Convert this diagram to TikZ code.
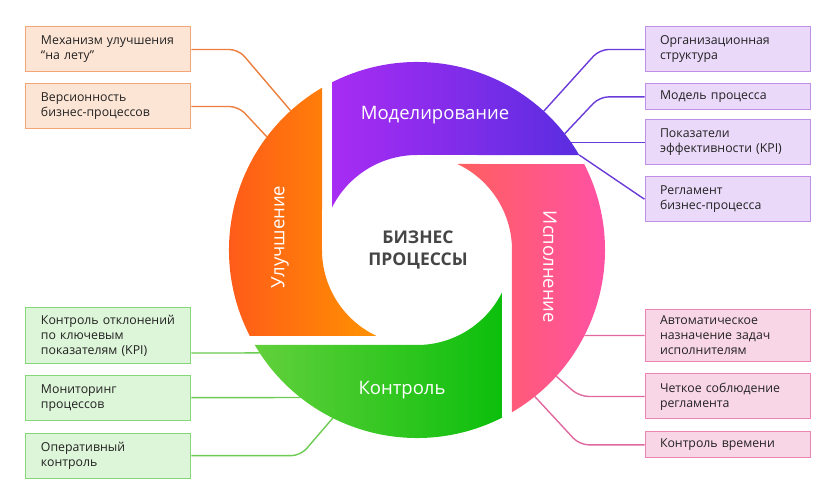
\documentclass[tikz,border=0pt]{standalone}
\usepackage{fontspec}
\setmainfont{Open Sans}
\usepackage{xcolor}
\usetikzlibrary{positioning}

\definecolor{txt}{HTML}{222222}
\definecolor{cen}{HTML}{454545}
\definecolor{orfill}{HTML}{FDE5D5}
\definecolor{ordraw}{HTML}{F2A675}
\definecolor{orline}{HTML}{EC7E3E}
\definecolor{pufill}{HTML}{EBD9FA}
\definecolor{pudraw}{HTML}{C08FE8}
\definecolor{puline}{HTML}{6A3BD9}
\definecolor{grfill}{HTML}{DDF5D8}
\definecolor{grdraw}{HTML}{86D67A}
\definecolor{grline}{HTML}{6CCB52}
\definecolor{pkfill}{HTML}{F9D6E6}
\definecolor{pkdraw}{HTML}{EC85B2}
\definecolor{pkline}{HTML}{E0689F}
\definecolor{purL}{HTML}{A82CF3}
\definecolor{purR}{HTML}{5A2DE0}
\definecolor{pinkL}{HTML}{FF5F5F}
\definecolor{pinkR}{HTML}{FF50B0}
\definecolor{grnL}{HTML}{62D03C}
\definecolor{grnR}{HTML}{0CBF0C}
\definecolor{orL}{HTML}{FF521E}
\definecolor{orR}{HTML}{FF9200}

\begin{document}
\begin{tikzpicture}[
x=1pt,y=1pt,
node distance=11pt,
box/.style={draw,line width=1pt,align=left,text width=135pt,inner xsep=15pt,inner ysep=7pt,minimum height=45pt,font=\fontsize{12.3}{15}\selectfont,text=txt},
obox/.style={box,fill=orfill,draw=ordraw},
pbox/.style={box,fill=pufill,draw=pudraw},
gbox/.style={box,fill=grfill,draw=grdraw},
rbox/.style={box,fill=pkfill,draw=pkdraw},
link/.style={line width=1.4pt,rounded corners=9pt},
seg/.style={font=\fontsize{18.5}{20}\selectfont,text=white}
]
\useasboundingbox (-417,-250) rectangle (419,250);

% boxes
\node[obox] (o1) at (-308.5,200.5) {Механизм~улучшения\\“на~лету”};
\node[obox,below=of o1] (o2) {Версионность\\бизнес-процессов};
\node[pbox] (p1) at (310.5,200.5) {Организационная\\структура};
\node[pbox,below=of p1,minimum height=25pt] (p2) {Модель~процесса};
\node[pbox,below=9pt of p2] (p3) {Показатели\\эффективности~(KPI)};
\node[pbox,below=of p3] (p4) {Регламент\\бизнес-процесса};
\node[gbox] (g1) at (-308.5,-85.5) {Контроль~отклонений\\по~ключевым\\показателям~(KPI)};
\node[gbox,below=of g1] (g2) {Мониторинг\\процессов};
\node[gbox,below=12pt of g2] (g3) {Оперативный\\контроль};
\node[rbox] (r1) at (310.5,-85.5) {Автоматическое\\назначение~задач\\исполнителям};
\node[rbox,below=of r1] (r2) {Четкое~соблюдение\\регламента};
\node[rbox,below=12pt of r2,minimum height=25pt] (r3) {Контроль~времени};

% ends on the ring
\coordinate (oe1) at (132.2:188);
\coordinate (oe2) at (143:188);
\coordinate (pe1) at (47.6:188);
\coordinate (pe2) at (38.2:188);
\coordinate (pe3) at (36:186);
\coordinate (pe4) at (30.35:188);
\coordinate (ge1) at (213.2:188);
\coordinate (ge2) at (231.7:188);
\coordinate (ge3) at (243.4:188);
\coordinate (re1) at (-27.05:188);
\coordinate (re2) at (-42.2:188);
\coordinate (re3) at (-51.2:188);

% connectors
\draw[link,orline] (o1.east) -- ++(47,0) -- (oe1);
\draw[link,orline] (o2.east) -- ++(47,0) -- (oe2);
\draw[link,puline] (p1.west) -- ++(-45,0) -- (pe1);
\draw[link,puline] (p2.west) -- ++(-45,0) -- (pe2);
\draw[link,puline] (p3.west) -- (pe3 |- p3.west);
\draw[link,puline] (p4.west) -- (pe4);
\draw[link,grline] ([yshift=-17.5pt]g1.east) -- (ge1);
\draw[link,grline] (g2.east) -- (ge2);
\draw[link,grline] (g3.east) -- ++(109,0) -- (ge3);
\draw[link,pkline] (r1.west) -- (re1);
\draw[link,pkline] (r2.west) -- ++(-65,0) -- (re2);
\draw[link,pkline] (r3.west) -- ++(-65,0) -- (re3);

% ring
\shade[left color=purL,right color=purR] (116.88:188) arc[start angle=116.88,end angle=30.35,radius=188] -- (0,95) arc[start angle=90,end angle=153.47,radius=95] -- cycle;
\shade[left color=pinkL,right color=pinkR] (27.22:188) arc[start angle=27.22,end angle=-59.65,radius=188] -- (95,0) arc[start angle=0,end angle=64.86,radius=95] -- cycle;
\shade[left color=grnL,right color=grnR] (-63.12:188) arc[start angle=-63.12,end angle=-149.65,radius=188] -- (0,-95) arc[start angle=270,end angle=333.47,radius=95] -- cycle;
\shade[left color=orL,right color=orR] (207.22:188) arc[start angle=207.22,end angle=120.35,radius=188] -- (-95,0) arc[start angle=180,end angle=244.86,radius=95] -- cycle;

\node[seg] (mod) at (18,135) {Моделирование};
\node[seg,rotate=-90] (isp) at (133,-17) {Исполнение};
\node[seg] (kon) at (-15,-140) {Контроль};
\node[seg,rotate=90] (ulu) at (-137,13) {Улучшение};
\node[font=\bfseries\fontsize{17.5}{22}\selectfont,text=cen,align=center] (bp) at (1,0) {БИЗНЕС\\ПРОЦЕССЫ};
\end{tikzpicture}
\end{document}
